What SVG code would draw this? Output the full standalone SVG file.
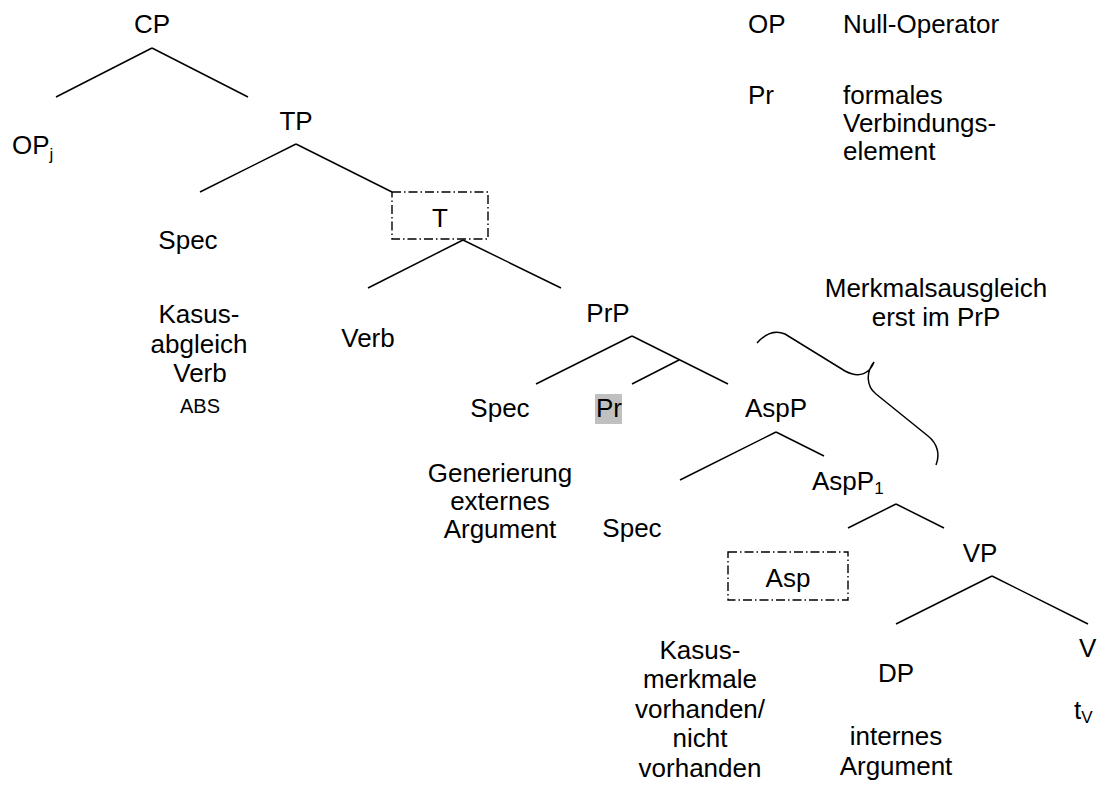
<svg xmlns="http://www.w3.org/2000/svg" width="1101" height="785" viewBox="0 0 1101 785">
<style>
text{font-family:"Liberation Sans",Arial,sans-serif;font-size:26px;fill:#000}
.c{text-anchor:middle}
.sm{font-size:20px}
.sub{font-size:17px}
.ln{stroke:#000;stroke-width:1.5;fill:none}
.box{stroke:#000;stroke-width:1.4;fill:none;stroke-dasharray:9,3,1.5,3}
</style>
<rect width="1101" height="785" fill="#fff"/>
<g id="connectors">
<path class="ln" d="M152,48 L56,97 M152,48 L248,97"/>
<path class="ln" d="M296,144 L200,192 M296,144 L392,192"/>
<path class="ln" d="M463,240 L368,288 M463,240 L561,288"/>
<path class="ln" d="M632,336 L536,384 M632,336 L728,384 M679,360 L632,384"/>
<path class="ln" d="M776,432 L680,480 M776,432 L824,456"/>
<path class="ln" d="M896,504 L848,528 M896,504 L944,528"/>
<path class="ln" d="M992,576 L896,624 M992,576 L1088,624"/>
</g>
<g id="brace">
<path class="ln" d="M757,343 C765,334 775,330 785,334 L845,371 C860,379 870,373 874,362 C866,372 866,386 876,394 L928,436 C938,444 940,455 936,465"/>
</g>
<g id="CP"><text class="c" x="152" y="33">CP</text></g>
<g id="OPj"><text x="12" y="154">OP<tspan class="sub" dy="6">j</tspan></text></g>
<g id="TP"><text class="c" x="296" y="130">TP</text></g>
<g id="Spec1"><text class="c" x="188" y="249">Spec</text></g>
<g id="T"><rect class="box" x="392" y="192" width="96" height="47"/><text class="c" x="440" y="227">T</text></g>
<g id="Kasusabgleich">
<text class="c" x="199" y="323">Kasus-</text>
<text class="c" x="199" y="353">abgleich</text>
<text class="c" x="200" y="382">Verb</text>
<text class="c sm" x="200" y="413">ABS</text>
</g>
<g id="Verb"><text class="c" x="368" y="347">Verb</text></g>
<g id="PrP"><text class="c" x="608" y="322">PrP</text></g>
<g id="Spec2"><text class="c" x="500" y="417">Spec</text></g>
<g id="Pr"><rect x="595" y="394" width="27" height="30" fill="#c0c0c0"/><text x="596" y="417">Pr</text></g>
<g id="AspP"><text x="745" y="417">AspP</text></g>
<g id="Generierung">
<text class="c" x="500" y="482">Generierung</text>
<text class="c" x="500" y="510">externes</text>
<text class="c" x="500" y="538">Argument</text>
</g>
<g id="Spec3"><text class="c" x="632" y="537">Spec</text></g>
<g id="AspP1"><text x="812" y="490">AspP<tspan class="sub" dy="4">1</tspan></text></g>
<g id="Asp"><rect class="box" x="728" y="552" width="120" height="48"/><text class="c" x="788" y="587">Asp</text></g>
<g id="VP"><text class="c" x="980" y="562">VP</text></g>
<g id="V"><text x="1079" y="657">V</text></g>
<g id="DP"><text class="c" x="896" y="682">DP</text></g>
<g id="tV"><text x="1074" y="719">t<tspan class="sub" dy="4">V</tspan></text></g>
<g id="Kasusmerkmale">
<text class="c" x="700" y="659">Kasus-</text>
<text class="c" x="700" y="688">merkmale</text>
<text class="c" x="700" y="718">vorhanden/</text>
<text class="c" x="700" y="747">nicht</text>
<text class="c" x="700" y="777">vorhanden</text>
</g>
<g id="internes">
<text class="c" x="896" y="745">internes</text>
<text class="c" x="896" y="775">Argument</text>
</g>
<g id="Merkmalsausgleich">
<text class="c" x="936" y="297">Merkmalsausgleich</text>
<text class="c" x="936" y="326">erst im PrP</text>
</g>
<g id="legend">
<text x="748" y="33">OP</text>
<text x="843" y="33">Null-Operator</text>
<text x="748" y="104">Pr</text>
<text x="843" y="104">formales</text>
<text x="843" y="132">Verbindungs-</text>
<text x="843" y="160">element</text>
</g>
</svg>
